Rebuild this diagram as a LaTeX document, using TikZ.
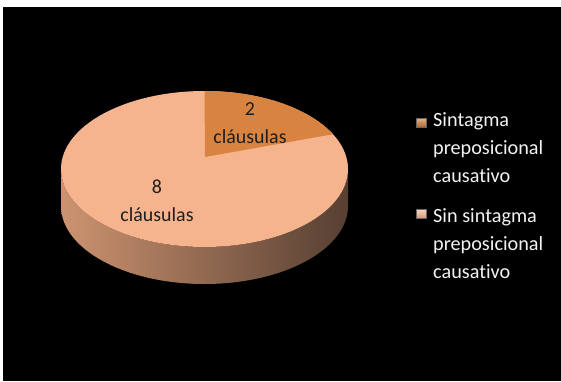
\documentclass[tikz,border=0pt]{standalone}
\usepackage{fontspec}
\setmainfont{Carlito}[Ligatures=CommonOff]
\definecolor{bigslice}{RGB}{246,180,142}
\definecolor{smallslice}{RGB}{217,131,64}
\definecolor{sideL}{RGB}{205,147,112}
\definecolor{sideM}{RGB}{150,106,80}
\definecolor{sideR}{RGB}{86,63,50}
\definecolor{labeltext}{RGB}{30,30,30}
\definecolor{legtext}{RGB}{242,242,242}
\begin{document}
\begin{tikzpicture}[x=1bp,y=1bp,
  lbl/.style={font=\fontsize{20}{28}\selectfont, text=labeltext, align=center, inner sep=0pt, anchor=base},
  leg/.style={font=\fontsize{20.3}{28}\selectfont, text=legtext, align=left, inner sep=0pt, anchor=base west},
  legbox/.style={minimum width=10bp, minimum height=9bp, inner sep=0pt, draw=black!60, line width=0.4bp}]
\useasboundingbox (0,0) rectangle (561,381);
\fill[white] (0,0) rectangle (561,381);
\fill[black] (3,0) rectangle (561,374);
% pie side
\shade[left color=sideL, middle color=sideM, right color=sideR]
  (61,212) arc[start angle=180, end angle=360, x radius=143.5, y radius=78]
  -- ++(0,-37) arc[start angle=0, end angle=-180, x radius=143.5, y radius=78] -- cycle;
% pie top
\fill[bigslice] (204.5,212) ellipse[x radius=143.5, y radius=78];
\fill[smallslice] (205,224) -- (204.5,290)
  arc[start angle=90, end angle=26.5, x radius=143.5, y radius=78] -- cycle;
% labels
\node[lbl] (l2) at (250,238) {2\\cláusulas};
\node[lbl] (l8) at (157,160) {8\\cláusulas};
% legend
\node[legbox, top color=smallslice!60!white, bottom color=smallslice!80!black] (m1) at (421,258.5) {};
\node[legbox, top color=bigslice!60!white, bottom color=bigslice!85!black] (m2) at (421,167) {};
\node[leg] (t1) at (433,199) {Sintagma\\preposicional\\causativo};
\node[leg] (t2) at (433,103) {Sin sintagma\\preposicional\\causativo};
\end{tikzpicture}
\end{document}
